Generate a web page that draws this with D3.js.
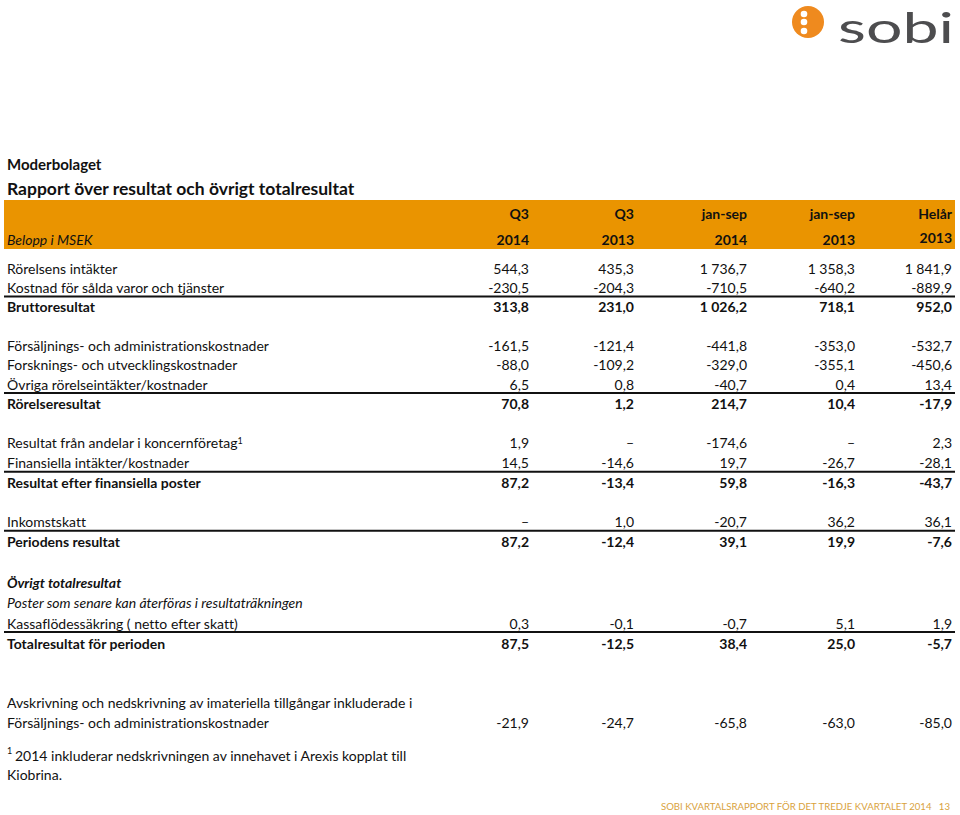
<html>
<head>
<meta charset="utf-8">
<script src="https://d3js.org/d3.v7.min.js"></script>
<style>
  body { margin: 0; background: #fff; }
  svg text { font-family: Lato, "Open Sans", sans-serif; fill: #111; font-variant-ligatures: none; }
</style>
</head>
<body>
<script>
// radetiketter (tomma strängar = tomrad)
var rowLabels = [
  "Rörelsens intäkter",
  "Kostnad för sålda varor och tjänster",
  "Bruttoresultat",
  "",
  "Försäljnings- och administrationskostnader",
  "Forsknings- och utvecklingskostnader",
  "Övriga rörelseintäkter/kostnader",
  "Rörelseresultat",
  "",
  "Resultat från andelar i koncernföretag",
  "Finansiella intäkter/kostnader",
  "Resultat efter finansiella poster",
  "",
  "Inkomstskatt",
  "Periodens resultat",
  "",
  "Övrigt totalresultat",
  "Poster som senare kan återföras i resultaträkningen",
  "Kassaflödessäkring ( netto efter skatt)",
  "Totalresultat för perioden",
  "",
  "",
  "Avskrivning och nedskrivning av imateriella tillgångar inkluderade i",
  "Försäljnings- och administrationskostnader"
];

var columns = ["q3_2014", "q3_2013", "js_2014", "js_2013", "helar_2013"];
var headTop = ["Q3", "Q3", "jan-sep", "jan-sep", "Helår"];
var headBottom = ["2014", "2013", "2014", "2013", "2013"];

// undefined = tom cell, null = streck
var _ = undefined;
var q3_2014  = [544.3, -230.5, 313.8, _, -161.5, -88.0, 6.5, 70.8, _, 1.9, 14.5, 87.2, _, null, 87.2, _, _, _, 0.3, 87.5, _, _, _, -21.9];
var q3_2013  = [435.3, -204.3, 231.0, _, -121.4, -109.2, 0.8, 1.2, _, null, -14.6, -13.4, _, 1.0, -12.4, _, _, _, -0.1, -12.5, _, _, _, -24.7];
var js_2014  = [1736.7, -710.5, 1026.2, _, -441.8, -329.0, -40.7, 214.7, _, -174.6, 19.7, 59.8, _, -20.7, 39.1, _, _, _, -0.7, 38.4, _, _, _, -65.8];
var js_2013  = [1358.3, -640.2, 718.1, _, -353.0, -355.1, 0.4, 10.4, _, null, -26.7, -16.3, _, 36.2, 19.9, _, _, _, 5.1, 25.0, _, _, _, -63.0];
var helar_2013 = [1841.9, -889.9, 952.0, _, -532.7, -450.6, 13.4, -17.9, _, 2.3, -28.1, -43.7, _, 36.1, -7.6, _, _, _, 1.9, -5.7, _, _, _, -85.0];
var series = [q3_2014, q3_2013, js_2014, js_2013, helar_2013];

var boldRows = [2, 7, 11, 14, 16, 19];
var italicRows = [16, 17];
var ruleRows = [1, 6, 10, 13, 18];

var width = 960, height = 815;
var orange = "#ea9400";

var svg = d3.select("body").append("svg")
  .attr("width", width)
  .attr("height", height);

// svensk talformatering
var sv = d3.formatLocale({ decimal: ",", thousands: "\u00a0", grouping: [3], currency: ["", " kr"], minus: "-" });
var fmt = sv.format(",.1f");

var x = d3.scaleOrdinal().domain(columns).range([529, 634, 747, 855, 952]);
var y = d3.scaleLinear().domain([0, 2, 7, 11, 14, 19, 23]).range([269, 307, 404, 483, 542, 644, 723]);

// logotyp
var logo = svg.append("g");
logo.append("circle").attr("cx", 808).attr("cy", 22).attr("r", 16).attr("fill", "#ef8a1e");
logo.selectAll("circle.dot").data([14, 22, 31]).enter().append("circle")
  .attr("class", "dot")
  .attr("cx", 804).attr("cy", function(d) { return d; }).attr("r", 3.3).attr("fill", "#fff");
logo.append("text").attr("x", 838).attr("y", 43)
  .attr("textLength", 116).attr("lengthAdjust", "spacingAndGlyphs")
  .style("font-size", "43px").style("fill", "#4d4d4f").style("font-weight", 400)
  .text("sobi");

// rubriker
svg.append("text").attr("x", 7).attr("y", 170).style("font-size", "15px").style("font-weight", 700).text("Moderbolaget");
svg.append("text").attr("x", 7).attr("y", 195).style("font-size", "17.5px").style("font-weight", 700)
  .text("Rapport över resultat och övrigt totalresultat");

// orange huvud
svg.append("rect").attr("x", 4).attr("y", 200).attr("width", 951).attr("height", 49).attr("fill", orange);
svg.append("text").attr("x", 7).attr("y", 245).style("font-size", "14px").style("font-style", "italic").text("Belopp i MSEK");
svg.selectAll("text.h1").data(columns).enter().append("text")
  .attr("class", "h1")
  .attr("x", function(d) { return x(d); }).attr("y", 219)
  .attr("text-anchor", "end").style("font-size", "14px").style("font-weight", 700)
  .text(function(d, i) { return headTop[i]; });
svg.selectAll("text.h2").data(columns).enter().append("text")
  .attr("class", "h2")
  .attr("x", function(d) { return x(d); }).attr("y", function(d, i) { return i == 4 ? 243 : 245; })
  .attr("text-anchor", "end").style("font-size", "14px").style("font-weight", 700)
  .text(function(d, i) { return headBottom[i]; });

// linjer
svg.selectAll("line.rule").data(ruleRows).enter().append("line")
  .attr("class", "rule")
  .attr("x1", 4).attr("x2", 955)
  .attr("y1", function(d) { return y(d) + 8.5; }).attr("y2", function(d) { return y(d) + 8.5; })
  .attr("stroke", "#111").attr("stroke-width", 2);

// rader
var rows = svg.selectAll("g.row").data(rowLabels).enter().append("g")
  .attr("class", "row")
  .attr("transform", function(d, i) { return "translate(0," + y(i) + ")"; });

var labels = rows.append("text")
  .attr("x", 7).attr("dy", "0.35em")
  .style("font-size", "14px")
  .style("font-weight", function(d, i) { return boldRows.indexOf(i) >= 0 ? 700 : 400; })
  .style("font-style", function(d, i) { return italicRows.indexOf(i) >= 0 ? "italic" : "normal"; })
  .text(function(d) { return d; });

labels.filter(function(d, i) { return i == 9; }).append("tspan")
  .attr("dy", "-0.5em").style("font-size", "9px").text("1");

rows.each(function(label, i) {
  var g = d3.select(this);
  columns.forEach(function(c, j) {
    var v = series[j][i];
    if (v === undefined) return;
    g.append("text")
      .attr("x", x(c)).attr("dy", "0.35em")
      .attr("text-anchor", "end")
      .style("font-size", "14px")
      .style("font-weight", boldRows.indexOf(i) >= 0 ? 700 : 400)
      .text(v === null ? "\u2013" : fmt(v));
  });
});

// fotnot
svg.append("text").attr("x", 7).attr("y", 754).style("font-size", "9px").text("1");
svg.append("text").attr("x", 15).attr("y", 761).style("font-size", "14px")
  .text("2014 inkluderar nedskrivningen av innehavet i Arexis kopplat till");
svg.append("text").attr("x", 7).attr("y", 780).style("font-size", "14px").text("Kiobrina.");

// sidfot
svg.append("text").attr("x", 950).attr("y", 810).attr("text-anchor", "end")
  .style("font-size", "9.6px").style("fill", "#d9a23c")
  .text("SOBI KVARTALSRAPPORT FÖR DET TREDJE KVARTALET 2014\u00a0\u00a0\u00a013");
</script>
</body>
</html>
